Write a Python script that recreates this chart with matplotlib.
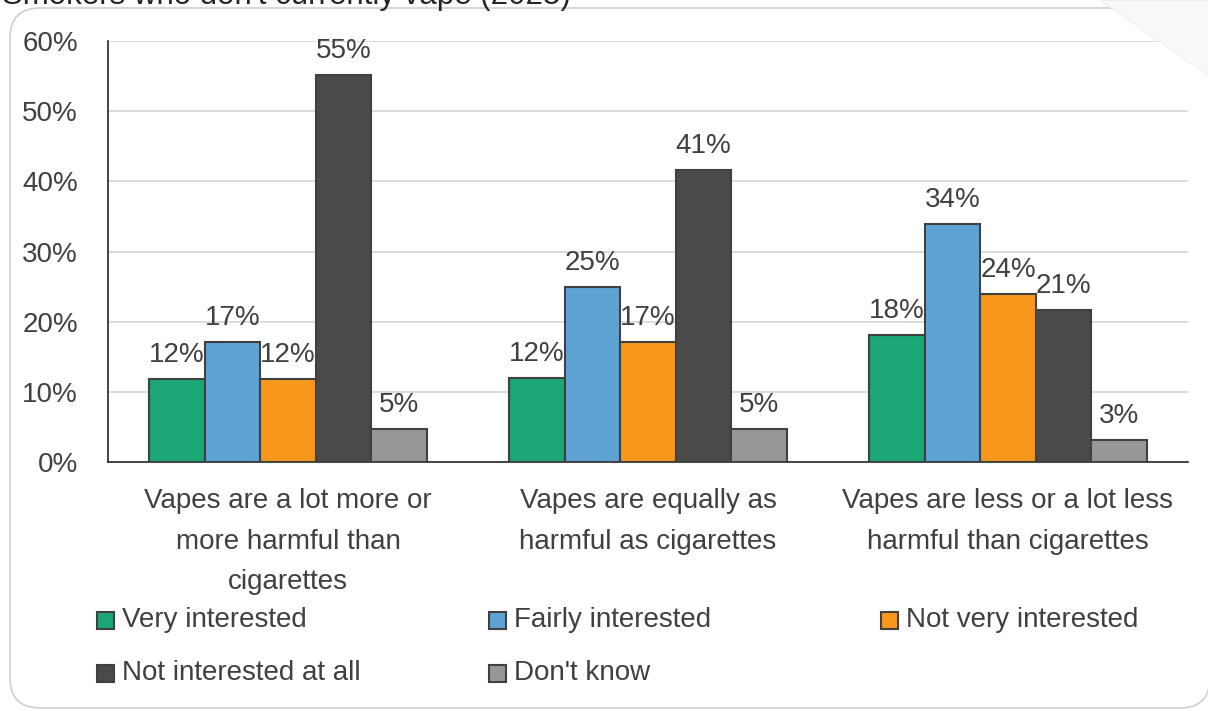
import matplotlib
matplotlib.use("Agg")
import matplotlib.pyplot as plt
import numpy as np
from matplotlib.patches import FancyBboxPatch, Rectangle, Polygon

categories = [
    "Vapes are a lot more or\nmore harmful than\ncigarettes",
    "Vapes are equally as\nharmful as cigarettes",
    "Vapes are less or a lot less\nharmful than cigarettes",
]
series_names = ["Very interested", "Fairly interested", "Not very interested",
                "Not interested at all", "Don't know"]
very_interested = [11.8, 12.0, 18.1]
fairly_interested = [17.1, 24.9, 33.9]
not_very_interested = [11.8, 17.1, 23.9]
not_interested_at_all = [55.2, 41.6, 21.6]
dont_know = [4.7, 4.7, 3.1]
value_labels = [
    ["12%", "12%", "18%"],
    ["17%", "25%", "34%"],
    ["12%", "17%", "24%"],
    ["55%", "41%", "21%"],
    ["5%", "5%", "3%"],
]
title = "Smokers who don't currently vape (2025)"
yticks = [0, 10, 20, 30, 40, 50, 60]
ytick_labels = ["0%", "10%", "20%", "30%", "40%", "50%", "60%"]

series = [very_interested, fairly_interested, not_very_interested,
          not_interested_at_all, dont_know]
colors = ["#1BA676", "#5FA3D5", "#F7981D", "#4A4A4A", "#979797"]
edge = "#404040"
text_color = "#404040"
FS = 20

plt.rcParams['font.family'] = ['Liberation Sans', 'DejaVu Sans']
W, H = 1208, 711
fig = plt.figure(figsize=(W / 100, H / 100), dpi=100)

# background rounded frame
frame = FancyBboxPatch((10 / W, 3 / H), (W - 8) / W, (H - 11) / H,
                       boxstyle="round,pad=0,rounding_size=0.025",
                       transform=fig.transFigure, facecolor="white",
                       edgecolor="#cfcfcf", linewidth=1.2, zorder=0,
                       mutation_aspect=W / H)
fig.add_artist(frame)
fig.add_artist(Polygon([(1100 / W, 1.0), (1208 / W, 1.0), (1208 / W, 1 - 75 / H)],
                       closed=True, transform=fig.transFigure,
                       facecolor="#f9f9f9", edgecolor="#efefef", linewidth=0.8, zorder=0.5))

ax_left, ax_right, ax_top, ax_bot = 108, 1188, 41, 462
ax = fig.add_axes([ax_left / W, 1 - ax_bot / H, (ax_right - ax_left) / W, (ax_bot - ax_top) / H])
ax.set_facecolor("none")

n = len(series)
group_w = 0.772
bw = group_w / n
x = np.arange(len(categories))
for i, (vals, col) in enumerate(zip(series, colors)):
    pos = x - group_w / 2 + bw * (i + 0.5)
    ax.bar(pos, vals, width=bw, color=col, edgecolor=edge, linewidth=1.5, zorder=3)
    for p, v, lab in zip(pos, vals, value_labels[i]):
        ax.annotate(lab, (p, v), xytext=(0, 8), textcoords="offset points",
                    ha="center", va="bottom", fontsize=FS, color=text_color, zorder=4)

ax.set_xlim(-0.5, len(categories) - 0.5)
ax.set_ylim(0, 60)
ax.set_yticks(yticks)
ax.set_yticklabels(ytick_labels, fontsize=FS, color=text_color)
ax.yaxis.grid(True, color="#d9d9d9", linewidth=1.3, zorder=0)
ax.set_axisbelow(True)
ax.tick_params(axis="x", length=0, pad=19)
ax.set_xticks(x)
ax.set_xticklabels(categories, fontsize=FS, color=text_color, linespacing=1.72)
for s in ["top", "right"]:
    ax.spines[s].set_visible(False)
ax.spines["left"].set_color("#262626")
ax.spines["bottom"].set_color("#262626")
ax.spines["left"].set_linewidth(1.2)
ax.spines["bottom"].set_linewidth(1.2)
ax.tick_params(axis="y", length=0, pad=30 * 72 / 100)

# title (partly cut at top, as in the reference)
fig.text(2 / W, 1 - 4 / H, title, fontsize=22.5, color="#262626", ha="left", va="baseline")

# legend laid out row-wise, 3 columns
col_x = [97, 489, 881]
row_y = [620, 673]
for k, (name, col) in enumerate(zip(series_names, colors)):
    r, c = divmod(k, 3)
    cx, cy = col_x[c], row_y[r]
    fig.add_artist(Rectangle((cx / W, 1 - (cy + 9) / H), 17 / W, 17 / H,
                             transform=fig.transFigure, facecolor=col,
                             edgecolor=edge, linewidth=1.5))
    fig.text((cx + 25) / W, 1 - cy / H, name, fontsize=FS, color=text_color,
             ha="left", va="center")

fig.savefig("out.png", dpi=100)
